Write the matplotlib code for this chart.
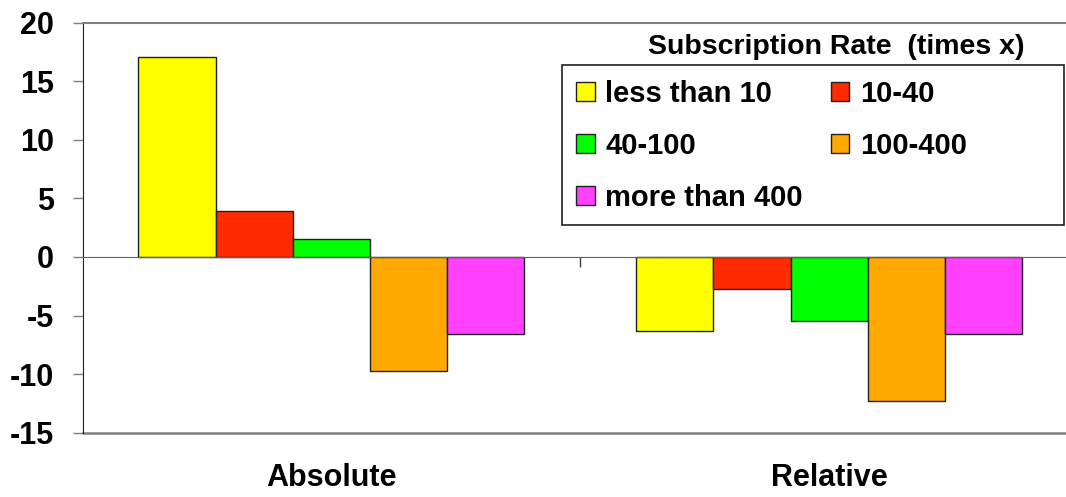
import numpy as np
from matplotlib import pyplot as plt
from matplotlib.patches import Rectangle
import matplotlib.transforms as mtransforms

plt.rcParams['font.family'] = ['Liberation Sans', 'DejaVu Sans']
plt.rcParams['font.weight'] = 'bold'
plt.rcParams['axes.unicode_minus'] = False

# data
categories = ['Absolute', 'Relative']
series = ['less than 10', '10-40', '40-100', '100-400', 'more than 400']
less_than_10 = [17.1, -6.3]
r10_40 = [3.9, -2.7]
r40_100 = [1.5, -5.5]
r100_400 = [-9.7, -12.3]
more_than_400 = [-6.6, -6.6]
colors = ['#FFFF00', '#FF2A00', '#00FF00', '#FFA800', '#FF40FF']
values = [less_than_10, r10_40, r40_100, r100_400, more_than_400]

W, H = 1066, 497
fig = plt.figure(figsize=(W / 100, H / 100), dpi=100)
ax = fig.add_axes([82.5 / W, 1 - 432.7 / H, (1078 - 82.5) / W, (432.7 - 22.7) / H])

x = np.arange(len(categories))
bw = 0.155
handles = []
for i, (name, vals) in enumerate(zip(series, values)):
    b = ax.bar(x + (i - 2) * bw, vals, bw, color=colors[i], edgecolor='#202020',
               linewidth=1.0, label=name, zorder=3)
    handles.append(b)

ax.set_xlim(-0.5, 1.5)
ax.set_ylim(-15, 20)
ax.set_yticks(np.arange(-15, 21, 5))
ax.tick_params(axis='y', direction='out', length=7.5, width=1, color='#808080',
               labelsize=22, pad=13)

# category axis crosses at zero
ax.spines['bottom'].set_position(('data', 0))
ax.spines['bottom'].set_color('#606060')
ax.spines['bottom'].set_zorder(4)
ax.set_xticks([0.5])
ax.set_xticklabels([])
ax.tick_params(axis='x', direction='out', length=7.5, width=1, color='#404040')
ax.spines['right'].set_visible(False)
ax.spines['top'].set_color('#808080')
ax.spines['top'].set_linewidth(1.5)
ax.spines['left'].set_color('#202020')
ax.axhline(-15, color='#808080', lw=1.8, clip_on=False)

trans = mtransforms.blended_transform_factory(ax.transData, fig.transFigure)
for xi, cat in zip(x, categories):
    ax.text(xi, 1 - 478 / H, cat, transform=trans, ha='center', va='center',
            fontsize=22, fontweight='bold')

# legend: title above box, entries in rows
fig.text(836 / W, 1 - 47 / H, 'Subscription Rate  (times x)', ha='center', va='center',
         fontsize=20.5, fontweight='bold')
fig.patches.append(Rectangle((562 / W, 1 - 224.5 / H), 502 / W, 159.5 / H,
                             transform=fig.transFigure, fill=False,
                             edgecolor='#202020', lw=1.2))
order = [0, 2, 4, 1, 3]
leg = fig.legend([handles[k] for k in order], [series[k] for k in order],
                 ncol=2, loc='upper left', bbox_to_anchor=(576 / W, 1 - 80 / H),
                 frameon=False, fontsize=21, borderpad=0, borderaxespad=0,
                 handlelength=0.65, handleheight=0.65, handletextpad=0.35,
                 labelspacing=0.82, columnspacing=0.95)

fig.savefig('out.png', dpi=100)
